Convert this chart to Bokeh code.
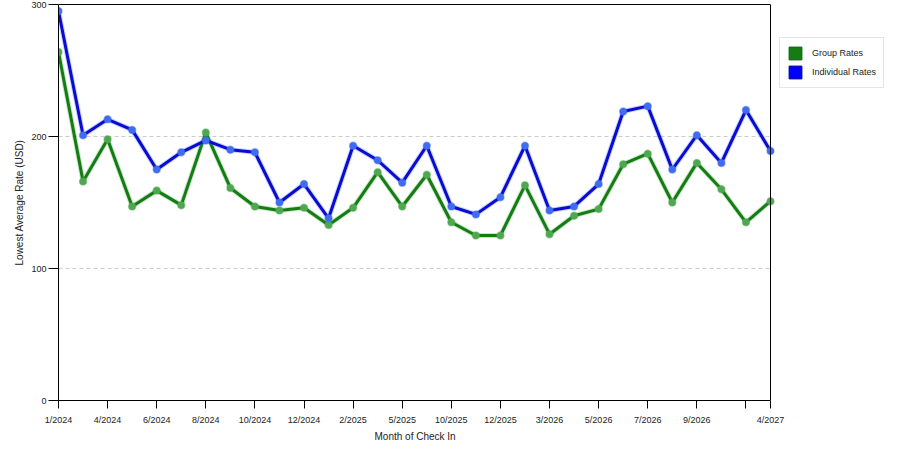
import bokeh.models
import bokeh.plotting
from bokeh.embed import file_html
from bokeh.resources import INLINE

# Lowest average rate per check-in month (USD)
point_index = list(range(30))
group_rates = [264, 166, 198, 147, 159, 148, 203, 161, 147, 144,
               146, 133, 146, 173, 147, 171, 135, 125, 125, 163,
               126, 140, 145, 179, 187, 150, 180, 160, 135, 151]
individual_rates = [295, 201, 213, 205, 175, 188, 197, 190, 188, 150,
                    164, 138, 193, 182, 165, 193, 147, 141, 154, 193,
                    144, 147, 164, 219, 223, 175, 201, 180, 220, 189]

tick_index = [0, 2, 4, 6, 8, 10, 12, 14, 16, 18, 20, 22, 24, 26, 28, 29]
tick_labels = ["1/2024", "4/2024", "6/2024", "8/2024", "10/2024", "12/2024",
               "2/2025", "5/2025", "10/2025", "12/2025", "3/2026", "5/2026",
               "7/2026", "9/2026", "", "4/2027"]
y_ticks = [0, 100, 200, 300]
grid_values = [100, 200]

FONT = "Liberation Sans"
GREEN = "#137d13"
BLUE = "#0a0ad2"
NAN = float("nan")

# The plot box ends at the last month (712 px wide); the frame runs on to
# the right edge so that the legend can sit beside the box without clipping.
BOX_W = 712
FRAME_W = 842
x_first, x_last = point_index[0], point_index[-1]
x_end = x_first + (x_last - x_first) * FRAME_W / BOX_W

source = bokeh.models.ColumnDataSource(
    data=dict(x=point_index, group=group_rates, individual=individual_rates)
)

p = bokeh.plotting.figure(
    width=900,
    height=450,
    x_range=bokeh.models.Range1d(x_first, x_end),
    y_range=bokeh.models.Range1d(0, 300),
    toolbar_location=None,
    tools="",
    output_backend="svg",
    min_border_left=58,
    min_border_right=0,
    min_border_top=4,
    min_border_bottom=50,
    y_axis_label="Lowest Average Rate (USD)",
)

p.outline_line_color = None
p.background_fill_color = "white"
p.border_fill_color = "white"
p.grid.grid_line_color = None

# Axes
p.xaxis.ticker = bokeh.models.FixedTicker(ticks=tick_index)
p.xaxis.major_label_overrides = dict(zip(tick_index, tick_labels))
p.xaxis.bounds = (x_first, x_last)
p.yaxis.ticker = bokeh.models.FixedTicker(ticks=y_ticks)

for ax in (p.xaxis, p.yaxis):
    ax.axis_line_color = "black"
    ax.major_tick_line_color = "black"
    ax.minor_tick_line_color = None
    ax.major_tick_in = 0
    ax.major_label_text_font = FONT
    ax.major_label_text_font_size = "9px"
    ax.major_label_text_color = "#222222"
    ax.axis_label_text_font = FONT
    ax.axis_label_text_font_size = "10px"
    ax.axis_label_text_font_style = "normal"
    ax.axis_label_text_color = "#222222"

p.xaxis.major_tick_out = 8
p.xaxis.major_label_standoff = 6
p.yaxis.major_tick_out = 10
p.yaxis.major_label_standoff = 2
p.yaxis.axis_label_standoff = 3

# Top edge of the plot box
top_edge = bokeh.models.LinearAxis(
    bounds=(x_first, x_last),
    ticker=bokeh.models.FixedTicker(ticks=[]),
    axis_line_color="black",
    major_tick_out=0,
    major_tick_in=0,
    minor_tick_out=0,
    minor_tick_in=0,
    major_label_standoff=0,
    major_label_text_font_size="0px",
)
p.add_layout(top_edge, "above")

# Right edge of the plot box
p.add_layout(bokeh.models.Span(location=x_last, dimension="height",
                               line_color="black", line_width=1))

# x-axis title, centred under the plot box
x_title = bokeh.models.Title(
    text="Month of Check In",
    align="left",
    offset=316,
    standoff=2,
    text_font=FONT,
    text_font_size="10px",
    text_font_style="normal",
    text_color="#222222",
)
p.add_layout(x_title, "below")

# Dashed horizontal grid lines across the plot box only
p.segment(x0=x_first, x1=x_last, y0=grid_values, y1=grid_values,
          line_color="#cccccc", line_width=1, line_dash="4 3")

# Series: soft halo, line, then markers
series = [("group", GREEN, "#4fa84f"), ("individual", BLUE, "#3f6cf0")]
for col, color, light in series:
    p.line(x="x", y=col, source=source, line_width=5, color=light, alpha=0.3)
    p.line(x="x", y=col, source=source, line_width=3, color=color)
    p.scatter(
        x="x", y=col, source=source, size=7,
        fill_color=light, line_color=light, line_alpha=0.5,
        line_width=1.5,
    )

# Legend swatches: quads with no visible extent, used only for the legend
blank = dict(left=[NAN], right=[NAN], top=[NAN], bottom=[NAN])
swatch_g = p.quad(source=bokeh.models.ColumnDataSource(data=dict(blank)),
                  fill_color=GREEN, line_color="#0b5e0b")
swatch_b = p.quad(source=bokeh.models.ColumnDataSource(data=dict(blank)),
                  fill_color="#0000ff", line_color="#00009a")

legend = bokeh.models.Legend(
    items=[
        bokeh.models.LegendItem(label="Group Rates", renderers=[swatch_g]),
        bokeh.models.LegendItem(label="Individual Rates", renderers=[swatch_b]),
    ],
    location=(721, 312),
    padding=7,
    spacing=3,
    margin=0,
    glyph_width=16,
    glyph_height=16,
    label_standoff=9,
    label_text_font=FONT,
    label_text_font_size="9px",
    label_text_color="#222222",
    label_height=16,
    border_line_color="#cccccc",
    border_line_width=1,
    background_fill_color="white",
)
p.add_layout(legend, "center")

open("out.html", "w").write(file_html(p, INLINE))
